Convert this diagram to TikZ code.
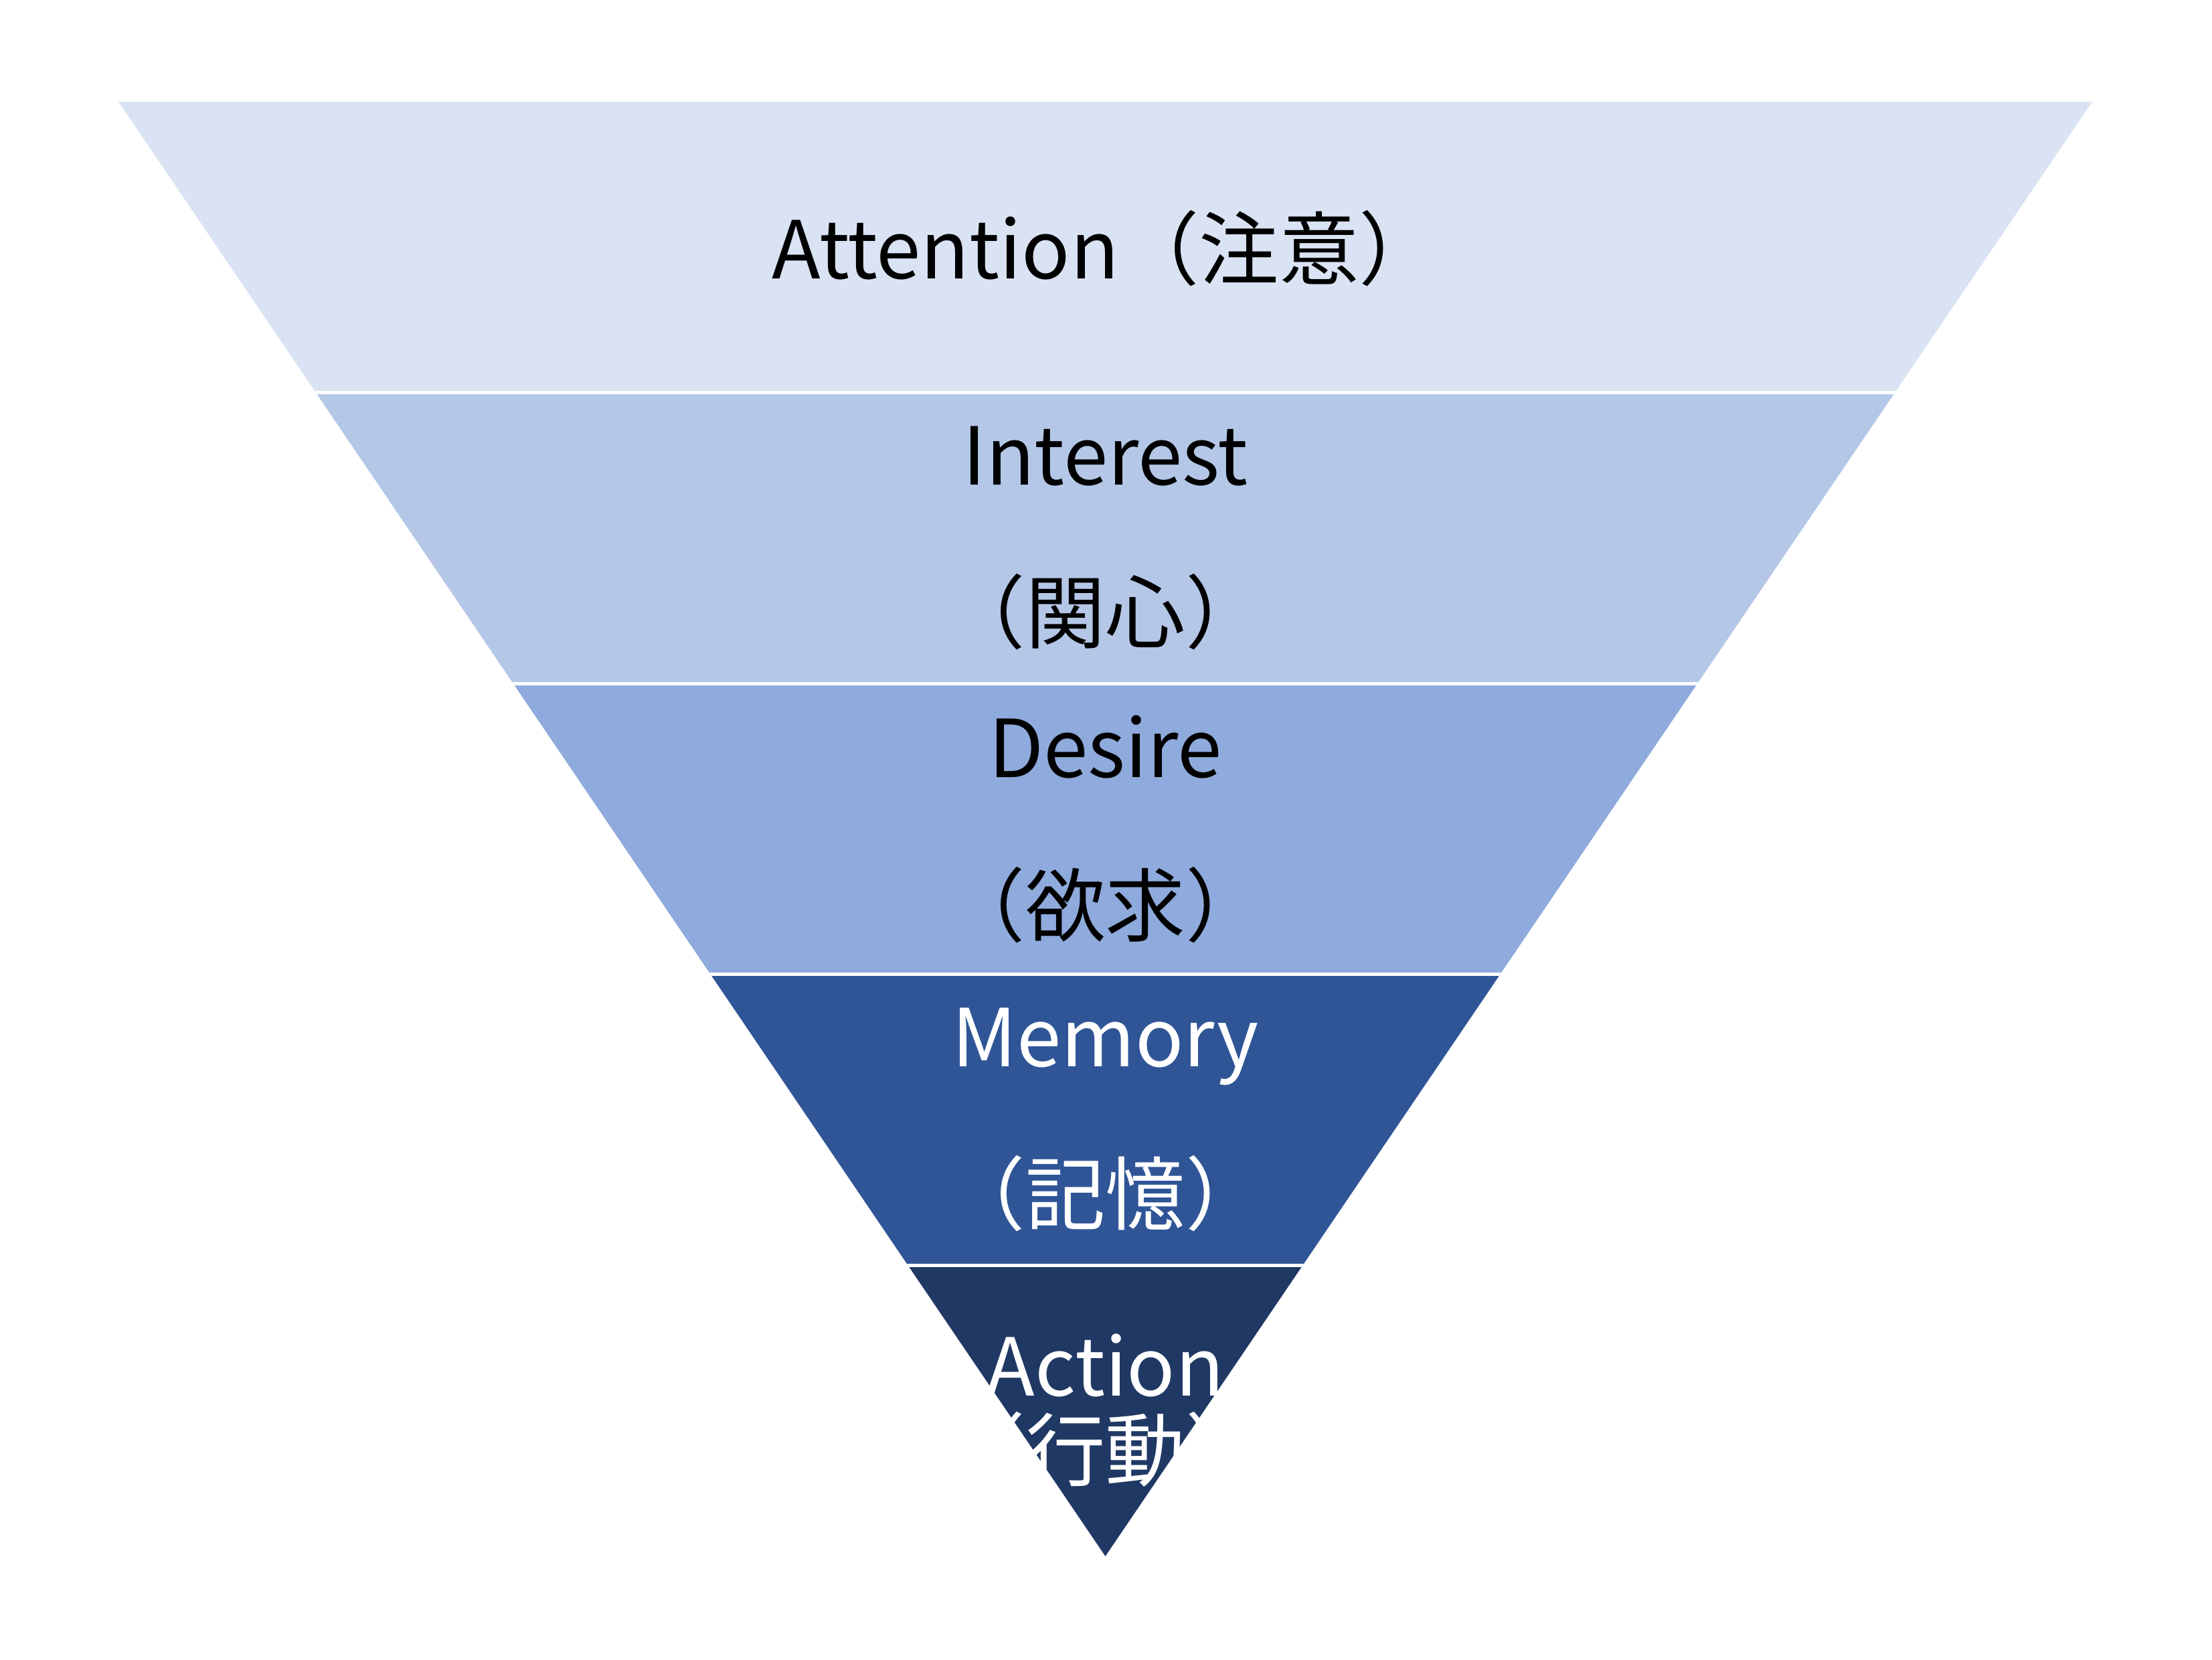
\documentclass[tikz,border=0pt]{standalone}
\usepackage{fontspec}
\setmainfont{Noto Sans CJK JP}
\usetikzlibrary{positioning}
\definecolor{bandA}{HTML}{DAE3F3}
\definecolor{bandB}{HTML}{B4C7E7}
\definecolor{bandC}{HTML}{8FAADC}
\definecolor{bandD}{HTML}{2F5597}
\definecolor{bandE}{HTML}{203864}
\tikzset{stage/.style={align=center,inner sep=0pt,font=\fontsize{34}{67}\selectfont},
  tight/.style={font=\fontsize{34}{36}\selectfont}}

\begin{document}
\begin{tikzpicture}[line join=round]
\useasboundingbox (0,0) rectangle (33.05,24.8);
% --- funnel outline
\coordinate (tl) at (1.77,23.28);
\coordinate (tr) at (31.26,23.28);
\coordinate (tip) at (16.515,1.55);
\begin{scope}
\clip (tl) -- (tr) -- (tip) -- cycle;
\foreach \i/\col in {0/bandA,1/bandB,2/bandC,3/bandD,4/bandE}
  \fill[\col] (0,{23.28-4.346*\i}) rectangle (33.05,{23.28-4.346*(\i+1)});
\foreach \i in {1,...,4}
  \draw[white,line width=1.4pt] (0,{23.28-4.346*\i}) -- (33.05,{23.28-4.346*\i});
\end{scope}
% --- stage labels
\node[stage] (attn) at (16.515,21.09) {Attention（注意）};
\node[stage] (intr) at (16.515,16.76) {Interest\\（関心）};
\node[stage] (desr) at (16.515,12.41) {Desire\\（欲求）};
\node[stage,white] (memo) at (16.515,8.07) {Memory\\（記憶）};
\node[stage,tight,white] (actn) at (16.515,3.72) {Action\\（行動）};
\end{tikzpicture}
\end{document}
